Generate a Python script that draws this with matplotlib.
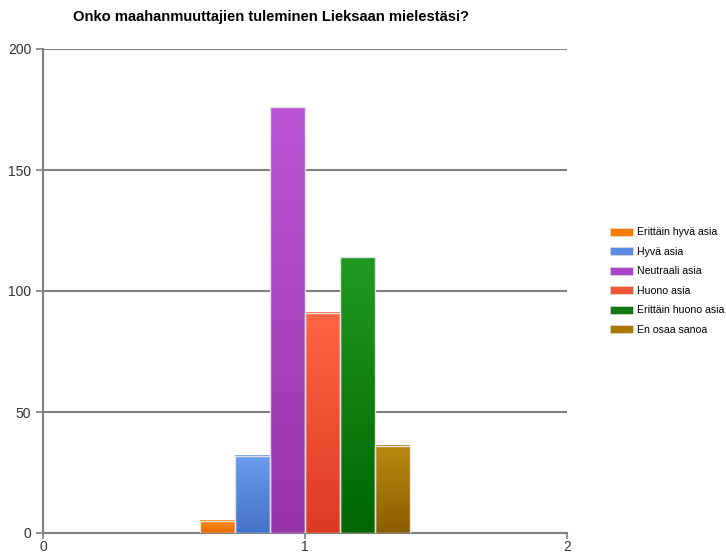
import numpy as np
import matplotlib.pyplot as plt
from matplotlib.colors import LinearSegmentedColormap
from matplotlib.patches import Patch

plt.rcParams['font.family'] = ['Liberation Sans', 'DejaVu Sans']

labels = ['Erittäin hyvä asia', 'Hyvä asia', 'Neutraali asia', 'Huono asia',
          'Erittäin huono asia', 'En osaa sanoa']
values = [5, 32, 176, 91, 114, 36]
legend_colors = ['#f57c00', '#5b8be0', '#aa44cc', '#ee5533', '#0f7a0f', '#aa7700']
top_colors = ['#ff8c10', '#6a9cf0', '#bb55d5', '#ff6644', '#229922', '#bb8811']
bottom_colors = ['#e06a00', '#4472c8', '#9933aa', '#dd3a22', '#006600', '#8b5e00']
title = 'Onko maahanmuuttajien tuleminen Lieksaan mielestäsi?'

fig = plt.figure(figsize=(7.26, 5.56), dpi=100)
ax = fig.add_axes([43 / 726, 23 / 556, 524 / 726, 484 / 556])

width = 0.8 / len(values)
xs = 1 - 0.4 + width * (np.arange(len(values)) + 0.5)
bars = ax.bar(xs, values, width=width, color='none', edgecolor='#e2e2e2',
              linewidth=1, zorder=4)

grad = np.linspace(0, 1, 100).reshape(-1, 1)
for b, c0, c1 in zip(bars, top_colors, bottom_colors):
    cmap = LinearSegmentedColormap.from_list('g', [c1, c0])
    x0, w, h = b.get_x(), b.get_width(), b.get_height()
    ax.imshow(grad, cmap=cmap, extent=[x0, x0 + w, 0, h], aspect='auto',
              origin='lower', zorder=3)

ax.set_xlim(0, 2)
ax.set_ylim(0, 200)
ax.set_xticks([0, 1, 2])
ax.set_yticks([0, 50, 100, 150, 200])
ax.yaxis.grid(True, color='#808080', linewidth=1.5, zorder=1)
ax.set_axisbelow(True)
for s in ['top', 'right']:
    ax.spines[s].set_visible(False)
for s in ['left', 'bottom']:
    ax.spines[s].set_color('#808080')
    ax.spines[s].set_linewidth(1.5)
ax.tick_params(colors='#808080', labelcolor='#333333', labelsize=10,
               length=5, width=1.2)
ax.tick_params(axis='x', length=4, pad=1)

fig.text(271 / 726, 1 - 17 / 556, title, ha='center', va='center',
         fontsize=10.6, fontweight='bold')

handles = [Patch(facecolor=c, edgecolor='#dddddd', linewidth=0.5)
           for c in legend_colors]
fig.legend(handles, labels, loc='center left',
           bbox_to_anchor=(600 / 726, 1 - 281 / 556), frameon=False,
           fontsize=7.6, handlelength=2.2, handleheight=0.8,
           handletextpad=0.4, labelspacing=0.9)

fig.savefig('out.png', dpi=100)
